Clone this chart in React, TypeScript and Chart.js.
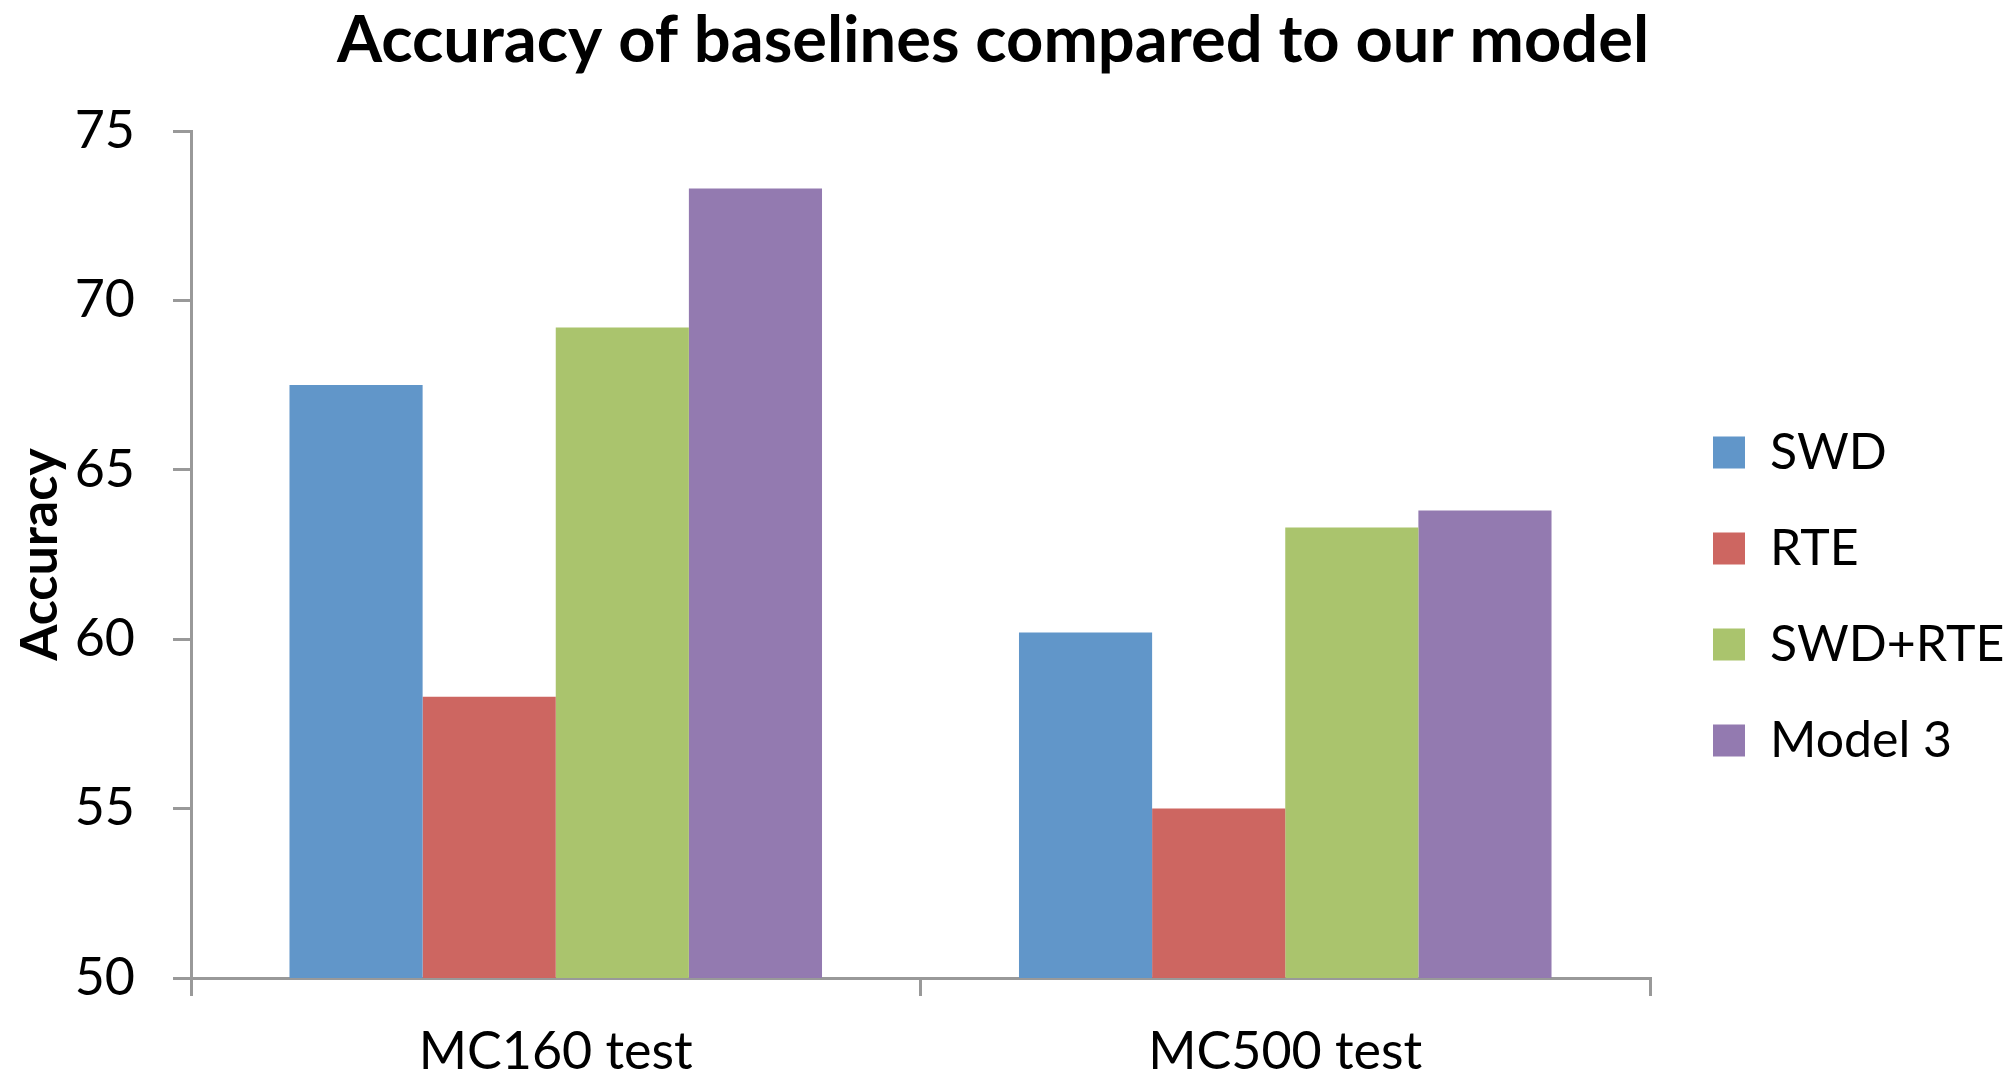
import React, { useEffect, useRef } from "react";
import { Chart, registerables } from "chart.js";

Chart.register(...registerables);

const categories = ["MC160 test", "MC500 test"];
const seriesNames = ["SWD", "RTE", "SWD+RTE", "Model 3"];
const swdValues = [67.5, 60.2];
const rteValues = [58.3, 55.0];
const swdRteValues = [69.2, 63.3];
const model3Values = [73.3, 63.8];
const seriesColors = ["#6196C9", "#CD6661", "#AAC46D", "#937AB0"];
const yTicks = { min: 50, max: 75, step: 5 };

export default function App() {
  const canvasRef = useRef<HTMLCanvasElement | null>(null);

  useEffect(() => {
    const canvas = canvasRef.current;
    if (!canvas) return;
    Chart.defaults.color = "#000";
    const values = [swdValues, rteValues, swdRteValues, model3Values];
    const chart = new Chart(canvas, {
      type: "bar",
      data: {
        labels: categories,
        datasets: seriesNames.map((name, i) => ({
          label: name,
          data: values[i],
          backgroundColor: seriesColors[i],
          borderWidth: 0,
          categoryPercentage: 0.73,
          barPercentage: 1.0,
        })),
      },
      options: {
        responsive: false,
        animation: false,
        devicePixelRatio: 1,
        layout: { padding: { left: -18, right: 9, top: 0, bottom: 0 } },
        plugins: {
          title: {
            display: true,
            text: "Accuracy of baselines compared to our model",
            color: "#000",
            font: { family: "Lato", size: 65, weight: "bold", lineHeight: 1.2 },
            padding: { top: 2, bottom: 51 },
          },
          legend: {
            display: true,
            position: "right",
            align: "center",
            title: {
              display: true,
              text: "",
              padding: 0,
              font: { size: 115, lineHeight: 1 },
            },
            labels: {
              boxWidth: 32,
              boxHeight: 32,
              padding: 46,
              color: "#000",
              font: { family: "Lato", size: 50 },
            },
          },
          tooltip: { enabled: false },
        },
        scales: {
          x: {
            grid: {
              display: true,
              drawOnChartArea: false,
              drawTicks: true,
              tickLength: 18,
              lineWidth: 3,
              color: "#999",
              offset: true,
            },
            border: { display: true, color: "#999", width: 3 },
            ticks: {
              color: "#000",
              padding: 25,
              font: { family: "Lato", size: 52 },
              maxRotation: 0,
            },
            afterFit: (s: any) => {
              s.height = 100;
            },
          },
          y: {
            min: yTicks.min,
            max: yTicks.max,
            grid: {
              display: true,
              drawOnChartArea: false,
              drawTicks: true,
              tickLength: 18,
              lineWidth: 3,
              color: "#999",
            },
            border: { display: true, color: "#999", width: 3 },
            ticks: {
              stepSize: yTicks.step,
              color: "#000",
              padding: 38,
              font: { family: "Lato", size: 52 },
            },
            title: {
              display: true,
              text: "Accuracy",
              color: "#000",
              font: { family: "Lato", size: 52, weight: "bold", lineHeight: 1.2 },
              padding: { top: 27, bottom: 0 },
            },
            afterFit: (s: any) => {
              s.width = 209;
            },
          },
          yRightSpacer: {
            type: "linear",
            position: "right",
            display: true,
            grid: { display: false },
            border: { display: false },
            ticks: { display: false },
            afterFit: (s: any) => {
              s.width = 17;
            },
          },
        },
      },
    });
    return () => chart.destroy();
  }, []);

  return (
    <div style={{ position: "absolute", left: 0, top: 0, width: 2013, height: 1078, background: "#fff" }}>
      <canvas ref={canvasRef} width={2013} height={1078} style={{ width: 2013, height: 1078, display: "block" }} />
    </div>
  );
}
